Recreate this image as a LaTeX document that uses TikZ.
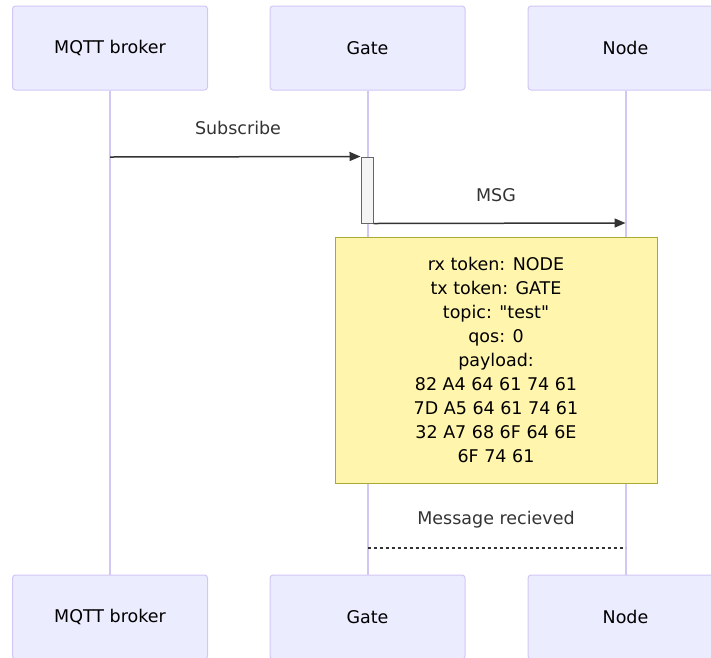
\documentclass[tikz,border=0pt]{standalone}
\usepackage{fontspec}
\setmainfont{DejaVu Sans}[Ligatures=TeXOff]
\usepackage{xcolor}
\usetikzlibrary{
	arrows.meta,        %提供各种箭头
	positioning,        %定位
	calc                %计算
}
\definecolor{actorfill}{HTML}{ECECFF}
\definecolor{actorline}{HTML}{D2C6F5}
\definecolor{notefill}{HTML}{FFF5AD}
\definecolor{noteline}{HTML}{AAAA33}
\definecolor{actfill}{HTML}{F4F4F4}
\definecolor{actline}{HTML}{666666}
\definecolor{msgline}{HTML}{333333}
\tikzstyle{actor}=[rectangle,
draw=actorline,
fill=actorfill,
line width=1pt,
rounded corners=3pt,
minimum width=195pt,
minimum height=84pt,
font=\fontsize{17.5}{20}\selectfont]
\tikzstyle{note}=[rectangle,
draw=noteline,
fill=notefill,
line width=1pt,
minimum width=322pt,
minimum height=246pt,
align=center,
font=\fontsize{17.5}{24}\selectfont]
\tikzset{
	every picture/.style={
		>={Triangle[length=11pt,width=9pt]},
		x=1pt,y=-1pt
	},
	lifeline/.style={draw=actorline,line width=2pt},
	msg/.style={draw=msgline,line width=1.5pt,->},
	reply/.style={draw=msgline,line width=1.5pt,dash pattern=on 3pt off 3pt},
	label/.style={text=msgline,font=\fontsize{17.5}{20}\selectfont},
	activation/.style={rectangle,draw=actline,fill=actfill,line width=1pt,
		minimum width=12pt,minimum height=66pt,inner sep=0pt}
}

\begin{document}
\begin{tikzpicture}
\useasboundingbox (0,0) rectangle (711,657);
% 参与者
\node[actor] (brokertop) at (110,48) {MQTT broker};
\node[actor] (gatetop) at (367.5,48) {Gate};
\node[actor] (nodetop) at (625.5,48) {Node};
\node[actor] (brokerbot) at (110,617) {MQTT broker};
\node[actor] (gatebot) at (367.5,617) {Gate};
\node[actor] (nodebot) at (625.5,617) {Node};
% 生命线
\draw[lifeline] (brokertop) -- (brokerbot);
\draw[lifeline] (gatetop) -- (gatebot);
\draw[lifeline] (nodetop) -- (nodebot);
% 消息
\node[activation] (act) at (367,190) {};
\coordinate (sub) at (110,157);
\coordinate (msgend) at (625.5,223);
\draw[msg] (sub) -- (act.north west);
\node[label] (sublabel) at (238,128) {Subscribe};
\draw[msg] (act.south east) -- (msgend);
\node[label] (msglabel) at (496,195) {MSG};
\node[note] (payload) at (496,360) {rx token: NODE\\tx token: GATE\\topic: "test"\\qos: 0\\payload:\\82 A4 64 61 74 61\\7D A5 64 61 74 61\\32 A7 68 6F 64 6E\\6F 74 61};
\coordinate (ackstart) at (367.5,548);
\coordinate (ackend) at (625.5,548);
\draw[reply] (ackstart) -- (ackend);
\node[label] (acklabel) at (496,520) {Message recieved};
\end{tikzpicture}
\end{document}
